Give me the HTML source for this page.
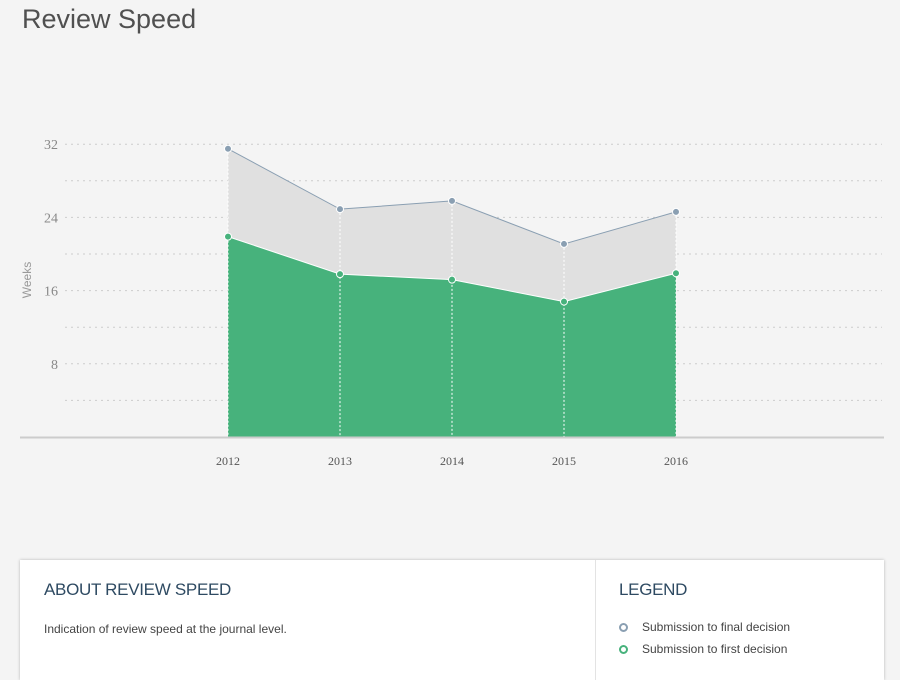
<!DOCTYPE html>
<html><head><meta charset="utf-8"><style>
body{margin:0;width:900px;height:661px;background:#f4f4f4;font-family:"Liberation Sans",sans-serif;overflow:hidden;position:relative}
h1{position:absolute;left:22px;top:4px;margin:0;font-weight:normal;font-size:27px;color:#505050}
.card{position:absolute;left:20px;top:560px;width:864px;height:120px;background:#fff;box-shadow:0 0 3px rgba(0,0,0,.25)}
.about{position:absolute;left:24px;top:20px;font-size:17px;color:#2e4a62;letter-spacing:-0.3px}
.desc{position:absolute;left:24px;top:62px;font-size:12px;color:#444}
.div{position:absolute;left:575px;top:0;width:1px;height:120px;background:#e3e3e3}
.leg{position:absolute;left:599px;top:20px;font-size:17px;color:#2e4a62;letter-spacing:-0.3px}
.li{position:absolute;left:599px;font-size:12px;color:#444}
.li span{display:inline-block;width:5px;height:5px;border-radius:50%;border:2px solid;margin-right:14px;vertical-align:middle}
</style></head><body>
<h1>Review Speed</h1>
<svg id="c" width="900" height="550" style="position:absolute;left:0;top:0"></svg>
<div class="card">
<div class="about">ABOUT REVIEW SPEED</div>
<div class="desc">Indication of review speed at the journal level.</div>
<div class="div"></div>
<div class="leg">LEGEND</div>
<div class="li" style="top:60px"><span style="border-color:#8a9fb2"></span>Submission to final decision</div>
<div class="li" style="top:82px"><span style="border-color:#47b27c"></span>Submission to first decision</div>
</div>
<script>
const years=["2012","2013","2014","2015","2016"];
const finalDecision=[31.5,24.9,25.8,21.1,24.6];
const firstDecision=[21.9,17.8,17.2,14.8,17.9];
const yTicks=[8,16,24,32];
const gridVals=[4,8,12,16,20,24,28,32];
const svg=document.getElementById('c');const NS='http://www.w3.org/2000/svg';
const x=i=>228+i*112; const y=v=>437-v*9.15;
function mk(t,a,name){const e=document.createElementNS(NS,t);for(const k in a)e.setAttribute(k,a[k]);


svg.appendChild(e);return e;}
gridVals.forEach(v=>mk('line',{x1:65,x2:882,y1:y(v),y2:y(v),stroke:'#ccc','stroke-dasharray':'2,4'},'gridline'));
yTicks.forEach(v=>{const t=mk('text',{x:58,y:y(v)+5,'text-anchor':'end','font-size':14,fill:'#888','font-family':'Liberation Serif'},'y-tick-label');t.textContent=v;});
const yl=mk('text',{transform:'translate(31,280) rotate(-90)','text-anchor':'middle','font-size':12,fill:'#999'},'y-axis-title');yl.textContent='Weeks';
let pf=years.map((d,i)=>x(i)+','+y(finalDecision[i])).join(' ');
let ps=years.map((d,i)=>x(i)+','+y(firstDecision[i])).join(' ');
mk('polygon',{points:pf+' '+x(4)+','+y(0)+' '+x(0)+','+y(0),fill:'#e0e0e0'},'area-final');
mk('polyline',{points:pf,fill:'none',stroke:'#8a9fb2','stroke-width':1},'line-final');
mk('polygon',{points:ps+' '+x(4)+','+y(0)+' '+x(0)+','+y(0),fill:'#47b27c'},'area-first');
mk('polyline',{points:ps,fill:'none',stroke:'#fff','stroke-width':1},'line-first');
years.forEach((d,i)=>{mk('line',{x1:x(i),x2:x(i),y1:y(finalDecision[i]),y2:y(0),stroke:'#fff','stroke-dasharray':'2,2'},'year-guide');
mk('circle',{cx:x(i),cy:y(finalDecision[i]),r:3.5,fill:'#8a9fb2',stroke:'#fff'},'point-final');
mk('circle',{cx:x(i),cy:y(firstDecision[i]),r:3.5,fill:'#47b27c',stroke:'#fff'},'point-first');
const t=mk('text',{x:x(i),y:465,'text-anchor':'middle','font-size':12,fill:'#555','font-family':'Liberation Serif'},'x-tick-label');t.textContent=d;});
mk('line',{x1:20,x2:884,y1:437.5,y2:437.5,stroke:'#ccc','stroke-width':2},'x-axis');
</script>
</body></html>
